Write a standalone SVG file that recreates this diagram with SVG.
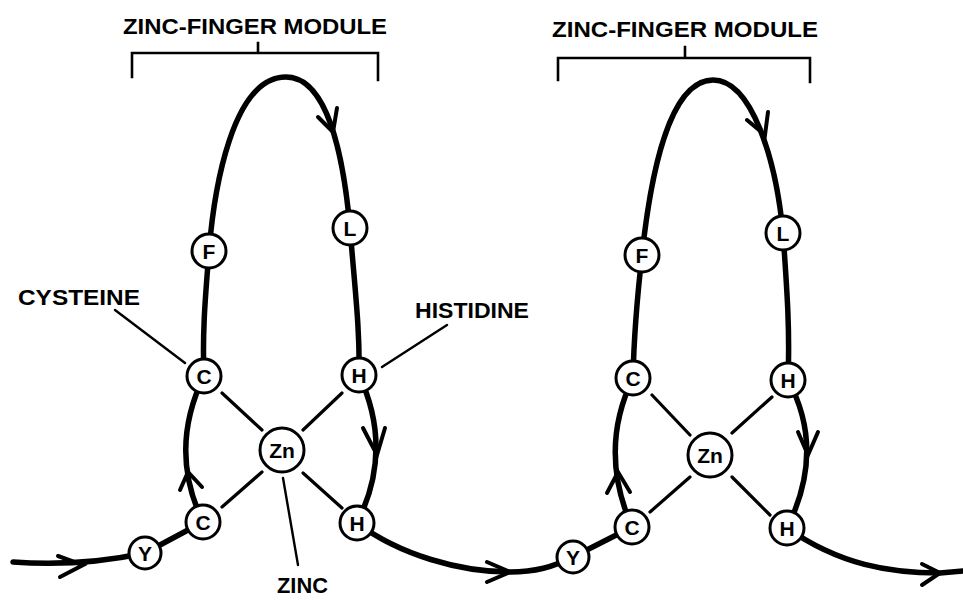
<svg xmlns="http://www.w3.org/2000/svg" width="963" height="600" viewBox="0 0 963 600">
<style>
.chain{fill:none;stroke:#000;stroke-width:5.5;stroke-linecap:round;stroke-linejoin:round}
.arr{fill:none;stroke:#000;stroke-width:4;stroke-linecap:round;stroke-linejoin:miter}
.bond{fill:none;stroke:#000;stroke-width:3.2;stroke-linecap:round}
.lead{fill:none;stroke:#000;stroke-width:2.4;stroke-linecap:round}
.brk{fill:none;stroke:#000;stroke-width:2.6;stroke-linecap:square}
.res circle{fill:#fff;stroke:#000;stroke-width:3}
.res text{font-family:"Liberation Sans",Arial,sans-serif;font-weight:bold;font-size:21px;text-anchor:middle;dominant-baseline:central}
.lbl{font-family:"Liberation Sans",Arial,sans-serif;font-weight:bold;font-size:22px}
</style>
<rect width="963" height="600" fill="#fff"/>
<g id="connectors">
<path class="chain" d="M13 562 Q80 567 145 553 L203 522 Q168 450 204 376 C202 330 206 290 209 251 C214 190 232 77 286 77 C326 77 343 150 350 228 C355 290 360 330 359 375 Q394 450 357 523 C400 555 460 572 510 572 C535 572 553 567 573 557 L632 527 Q598 450 633 378 C634 330 638 290 642 255 C650 180 668 80 713 80 C752 80 776 160 783 233 C787 290 790 330 788 380 Q826 450 787 528 C840 565 890 573 940 573 L963 571"/>
<path class="arr" d="M58 556 L83 565 L60 577"/>
<path class="arr" d="M180 490 L188 472 L202 487"/>
<path class="arr" d="M318 117 L333 132 L337 108"/>
<path class="arr" d="M363 428 L377 455 L385 428"/>
<path class="arr" d="M487 562 L510 572 L487 582"/>
<path class="arr" d="M607 493 L618 472 L630 492"/>
<path class="arr" d="M747 120 L765 135 L768 112"/>
<path class="arr" d="M798 432 L808 455 L818 432"/>
<path class="arr" d="M922 564 L940 573 L922 585"/>
<path class="bond" d="M222 393 L262 430 M342 393 L303 430 M222 507 L262 472 M342 508 L303 473"/>
<path class="bond" d="M652 395 L690 435 M772 397 L732 433 M650 512 L690 477 M770 515 L732 477"/>
<path class="lead" d="M283 478 L298 565 M115 310 L185 363 M447 325 L382 367"/>
<path class="brk" d="M132 77 L132 53 L378 53 L378 80 M258 43 L258 53"/>
<path class="brk" d="M558 80 L558 58 L810 58 L810 82 M685 47 L685 58"/>
</g>
<g id="titles">
<text class="lbl" x="123" y="34" textLength="264" lengthAdjust="spacingAndGlyphs">ZINC-FINGER MODULE</text>
<text class="lbl" x="552" y="37" textLength="266" lengthAdjust="spacingAndGlyphs">ZINC-FINGER MODULE</text>
<text class="lbl" x="18" y="305" textLength="122" lengthAdjust="spacingAndGlyphs">CYSTEINE</text>
<text class="lbl" x="415" y="318" textLength="114" lengthAdjust="spacingAndGlyphs">HISTIDINE</text>
<text class="lbl" x="277" y="593" textLength="51" lengthAdjust="spacingAndGlyphs">ZINC</text>
</g>
<g id="m1-Y" class="res"><circle cx="145" cy="553" r="16"/><text x="145" y="553">Y</text></g>
<g id="m1-C2" class="res"><circle cx="203" cy="522" r="17"/><text x="203" y="522">C</text></g>
<g id="m1-C1" class="res"><circle cx="204" cy="376" r="17"/><text x="204" y="376">C</text></g>
<g id="m1-F" class="res"><circle cx="209" cy="251" r="17"/><text x="209" y="251">F</text></g>
<g id="m1-L" class="res"><circle cx="350" cy="228" r="17"/><text x="350" y="228">L</text></g>
<g id="m1-H1" class="res"><circle cx="359" cy="375" r="17"/><text x="359" y="375">H</text></g>
<g id="m1-H2" class="res"><circle cx="357" cy="523" r="17"/><text x="357" y="523">H</text></g>
<g id="m1-Zn" class="res"><circle cx="282" cy="450" r="22"/><text x="282" y="450">Zn</text></g>
<g id="m2-Y" class="res"><circle cx="573" cy="557" r="16"/><text x="573" y="557">Y</text></g>
<g id="m2-C2" class="res"><circle cx="632" cy="527" r="17"/><text x="632" y="527">C</text></g>
<g id="m2-C1" class="res"><circle cx="633" cy="378" r="17"/><text x="633" y="378">C</text></g>
<g id="m2-F" class="res"><circle cx="642" cy="255" r="17"/><text x="642" y="255">F</text></g>
<g id="m2-L" class="res"><circle cx="783" cy="233" r="17"/><text x="783" y="233">L</text></g>
<g id="m2-H1" class="res"><circle cx="788" cy="380" r="17"/><text x="788" y="380">H</text></g>
<g id="m2-H2" class="res"><circle cx="787" cy="528" r="17"/><text x="787" y="528">H</text></g>
<g id="m2-Zn" class="res"><circle cx="710" cy="455" r="22"/><text x="710" y="455">Zn</text></g>
</svg>
